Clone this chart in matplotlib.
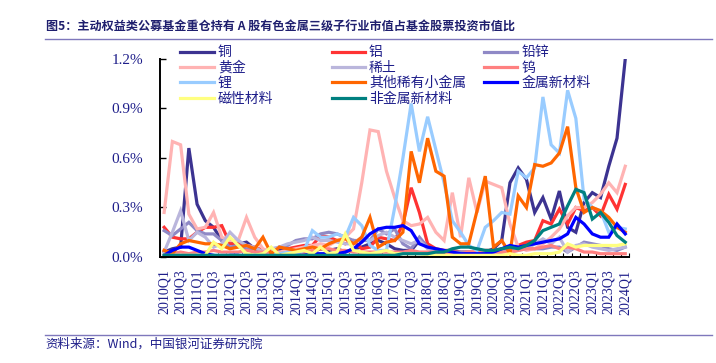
import matplotlib
matplotlib.use("Agg")
import matplotlib.pyplot as plt
import numpy as np

# ---------------- data ----------------
quarters = [f"{y}Q{q}" for y in range(2010, 2025) for q in range(1, 5)][:57]
tick_labels = quarters[::2]

copper = [0.03, 0.05, 0.06, 0.66, 0.32, 0.22, 0.18, 0.10, 0.10, 0.08, 0.09, 0.05, 0.03, 0.03, 0.04, 0.04,
          0.04, 0.03, 0.03, 0.05, 0.04, 0.05, 0.03, 0.05, 0.06, 0.08, 0.10, 0.08, 0.05, 0.04, 0.04, 0.10,
          0.07, 0.04, 0.03, 0.03, 0.02, 0.02, 0.02, 0.03, 0.05, 0.10, 0.45, 0.54, 0.47, 0.27, 0.36, 0.23,
          0.40, 0.18, 0.15, 0.33, 0.39, 0.36, 0.55, 0.72, 1.20]
aluminum = [0.18, 0.12, 0.11, 0.11, 0.15, 0.18, 0.18, 0.19, 0.08, 0.08, 0.07, 0.06, 0.04, 0.03, 0.06, 0.05,
            0.06, 0.07, 0.07, 0.13, 0.12, 0.10, 0.08, 0.10, 0.05, 0.06, 0.12, 0.11, 0.10, 0.20, 0.42, 0.27,
            0.08, 0.05, 0.04, 0.04, 0.03, 0.03, 0.03, 0.04, 0.04, 0.05, 0.05, 0.07, 0.09, 0.10, 0.22, 0.20,
            0.29, 0.20, 0.30, 0.28, 0.30, 0.25, 0.38, 0.29, 0.44]
leadzinc = [0.16, 0.13, 0.17, 0.21, 0.16, 0.14, 0.14, 0.10, 0.06, 0.07, 0.05, 0.05, 0.03, 0.04, 0.06, 0.07,
            0.10, 0.11, 0.11, 0.14, 0.15, 0.14, 0.12, 0.10, 0.10, 0.10, 0.17, 0.14, 0.17, 0.08, 0.05, 0.12,
            0.06, 0.04, 0.03, 0.03, 0.03, 0.03, 0.02, 0.03, 0.04, 0.04, 0.05, 0.05, 0.06, 0.05, 0.05, 0.06,
            0.06, 0.03, 0.06, 0.09, 0.08, 0.07, 0.05, 0.04, 0.06]
gold = [0.27, 0.70, 0.68, 0.26, 0.17, 0.18, 0.27, 0.12, 0.10, 0.10, 0.24, 0.12, 0.05, 0.03, 0.03, 0.04,
        0.05, 0.06, 0.07, 0.08, 0.07, 0.10, 0.12, 0.17, 0.45, 0.77, 0.76, 0.52, 0.36, 0.22, 0.19, 0.20,
        0.24, 0.15, 0.10, 0.39, 0.12, 0.48, 0.27, 0.46, 0.44, 0.42, 0.20, 0.06, 0.04, 0.05, 0.08, 0.12,
        0.17, 0.25, 0.30, 0.30, 0.33, 0.38, 0.45, 0.39, 0.55]
rare_earth = [0.03, 0.15, 0.28, 0.10, 0.15, 0.12, 0.06, 0.08, 0.15, 0.10, 0.07, 0.06, 0.03, 0.05, 0.06, 0.08,
              0.09, 0.10, 0.12, 0.10, 0.10, 0.09, 0.08, 0.08, 0.12, 0.10, 0.13, 0.15, 0.12, 0.10, 0.08, 0.10,
              0.05, 0.04, 0.03, 0.02, 0.02, 0.02, 0.02, 0.02, 0.02, 0.03, 0.03, 0.04, 0.05, 0.08, 0.11, 0.08,
              0.12, 0.03, 0.07, 0.08, 0.06, 0.05, 0.04, 0.05, 0.06]
tungsten = [0.04, 0.02, 0.03, 0.02, 0.03, 0.03, 0.04, 0.03, 0.03, 0.03, 0.04, 0.03, 0.03, 0.02, 0.02, 0.03,
            0.03, 0.03, 0.04, 0.05, 0.05, 0.04, 0.04, 0.03, 0.03, 0.03, 0.03, 0.03, 0.03, 0.03, 0.04, 0.03,
            0.03, 0.03, 0.02, 0.02, 0.02, 0.03, 0.03, 0.03, 0.03, 0.03, 0.03, 0.04, 0.05, 0.05, 0.06, 0.07,
            0.05, 0.06, 0.05, 0.03, 0.03, 0.02, 0.02, 0.02, 0.02]
lithium = [0.01, 0.01, 0.01, 0.01, 0.01, 0.01, 0.01, 0.01, 0.01, 0.01, 0.01, 0.01, 0.01, 0.01, 0.02, 0.03,
           0.02, 0.04, 0.16, 0.12, 0.12, 0.14, 0.12, 0.24, 0.19, 0.07, 0.04, 0.04, 0.30, 0.60, 0.93, 0.64,
           0.85, 0.65, 0.45, 0.22, 0.15, 0.07, 0.04, 0.18, 0.22, 0.27, 0.26, 0.52, 0.48, 0.54, 0.97, 0.68,
           0.63, 1.01, 0.84, 0.35, 0.30, 0.28, 0.15, 0.18, 0.17]
other_minor = [0.04, 0.02, 0.08, 0.10, 0.09, 0.08, 0.08, 0.07, 0.05, 0.06, 0.07, 0.05, 0.12, 0.02, 0.06, 0.05,
               0.04, 0.05, 0.06, 0.05, 0.08, 0.10, 0.11, 0.08, 0.12, 0.24, 0.06, 0.09, 0.10, 0.15, 0.64, 0.45,
               0.72, 0.52, 0.49, 0.12, 0.08, 0.08, 0.28, 0.49, 0.06, 0.10, 0.02, 0.37, 0.30, 0.56, 0.55, 0.57,
               0.63, 0.79, 0.42, 0.27, 0.30, 0.28, 0.24, 0.18, 0.15]
metal_new = [0.01, 0.04, 0.06, 0.06, 0.04, 0.02, 0.01, 0.00, 0.01, 0.01, 0.00, 0.00, 0.00, 0.00, 0.01, 0.01,
             0.01, 0.01, 0.02, 0.02, 0.02, 0.02, 0.03, 0.05, 0.09, 0.14, 0.17, 0.18, 0.18, 0.19, 0.16, 0.08,
             0.06, 0.05, 0.04, 0.03, 0.02, 0.02, 0.02, 0.02, 0.03, 0.05, 0.07, 0.06, 0.07, 0.08, 0.09, 0.10,
             0.11, 0.14, 0.24, 0.20, 0.14, 0.12, 0.12, 0.20, 0.14]
magnetic = [0.01, 0.01, 0.01, 0.01, 0.01, 0.01, 0.09, 0.05, 0.12, 0.07, 0.02, 0.01, 0.02, 0.06, 0.01, 0.02,
            0.03, 0.04, 0.02, 0.06, 0.02, 0.03, 0.14, 0.04, 0.03, 0.02, 0.03, 0.04, 0.02, 0.02, 0.02, 0.02,
            0.01, 0.01, 0.01, 0.01, 0.01, 0.01, 0.01, 0.01, 0.01, 0.01, 0.02, 0.01, 0.01, 0.02, 0.02, 0.02,
            0.03, 0.08, 0.06, 0.07, 0.07, 0.07, 0.07, 0.07, 0.08]
nonmetal_new = [0.01, 0.01, 0.01, 0.01, 0.01, 0.01, 0.01, 0.01, 0.01, 0.01, 0.01, 0.01, 0.01, 0.01, 0.01, 0.01,
                0.01, 0.01, 0.01, 0.01, 0.01, 0.01, 0.01, 0.01, 0.01, 0.01, 0.01, 0.01, 0.01, 0.02, 0.02, 0.02,
                0.02, 0.03, 0.03, 0.05, 0.06, 0.06, 0.05, 0.04, 0.04, 0.05, 0.06, 0.05, 0.07, 0.10, 0.16, 0.18,
                0.20, 0.31, 0.41, 0.39, 0.23, 0.27, 0.21, 0.13, 0.09]

series_names = ["铜", "铝", "铅锌", "黄金", "稀土", "钨", "锂", "其他稀有小金属", "金属新材料", "磁性材料", "非金属新材料"]
series_values = [copper, aluminum, leadzinc, gold, rare_earth, tungsten, lithium, other_minor, metal_new, magnetic, nonmetal_new]
series_colors = ["#3C3391", "#FF3333", "#8F89C6", "#FFB3B3", "#BAB6DC", "#FF8080", "#99CCFF", "#FF6600", "#0000FF", "#FFFF80", "#008080"]

# ---------------- figure ----------------
CJK = ["Noto Sans CJK SC", "DejaVu Sans"]
NAVY = "#1E1E8A"
fig = plt.figure(figsize=(7.16, 3.63), dpi=100)
ax = fig.add_axes([0.2235, 0.292, 0.6555, 0.5455])

x = np.arange(len(quarters))
handles = {}
for name, vals, col in zip(series_names, series_values, series_colors):
    h, = ax.plot(x, vals, color=col, lw=2.3, solid_joinstyle="miter", label=name)
    handles[name] = h

ax.set_xlim(-0.5, len(quarters) - 0.5)
ax.set_ylim(0, 1.2)
ax.set_yticks([0, 0.3, 0.6, 0.9, 1.2])
ax.set_yticklabels([f"{v:.1f}%" for v in [0, 0.3, 0.6, 0.9, 1.2]],
                   fontfamily="Liberation Serif", fontsize=11, color=NAVY)
ax.set_xticks(x[::2])
ax.set_xticklabels(tick_labels, rotation=90, fontfamily="Liberation Serif", fontsize=10, color=NAVY)
ax.set_xticks(np.arange(-0.5, len(quarters), 1), minor=True)
ax.tick_params(axis="x", which="major", length=0, pad=9)
ax.tick_params(axis="x", which="minor", direction="in", length=3, width=0.8)
ax.tick_params(axis="y", direction="in", length=4, width=1, pad=12)
for s in ["top", "right"]:
    ax.spines[s].set_visible(False)
for s in ["left", "bottom"]:
    ax.spines[s].set_linewidth(1.4)
    ax.spines[s].set_color("black")

# legend: three columns, row-major order as in reference
cols = [["铜", "黄金", "锂", "磁性材料"],
        ["铝", "稀土", "其他稀有小金属", "非金属新材料"],
        ["铅锌", "钨", "金属新材料"]]
col_x = [0.252, 0.463, 0.676]
for cx, names in zip(col_x, cols):
    leg = fig.legend([handles[n] for n in names], names, loc="upper left",
                     bbox_to_anchor=(cx, 0.875), frameon=False, borderpad=0, borderaxespad=0,
                     handlelength=2.4, handletextpad=0.3, labelspacing=0.1,
                     prop={"family": CJK, "size": 10})
    for t in leg.get_texts():
        t.set_color(NAVY)

# title and source
fig.text(0.064, 0.925, "图5：主动权益类公募基金重仓持有 A 股有色金属三级子行业市值占基金股票投资市值比",
         fontfamily=CJK, fontsize=8.7, fontweight="bold", color="#1F1F6E", va="center", ha="left")
fig.add_artist(plt.Line2D([0.063, 0.995], [0.893, 0.893], transform=fig.transFigure, color="#7F78BC", lw=1))
fig.add_artist(plt.Line2D([0.063, 0.995], [0.077, 0.077], transform=fig.transFigure, color="#7F78BC", lw=1))
fig.text(0.064, 0.052, "资料来源：Wind，中国银河证券研究院", fontfamily=CJK, fontsize=9,
         fontstyle="italic", color="#1F1F8A", va="center", ha="left")

fig.savefig("out.png", dpi=100)
